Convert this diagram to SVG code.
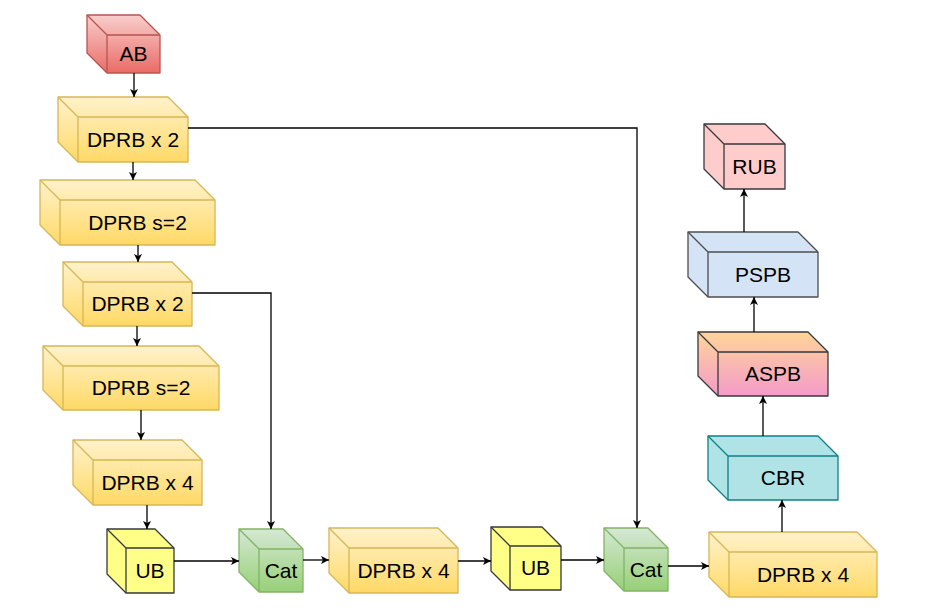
<svg xmlns="http://www.w3.org/2000/svg" width="941" height="614" viewBox="0 0 941 614">
<defs>
<linearGradient id="gY" x1="0" y1="0" x2="0" y2="1"><stop offset="0" stop-color="#fff2cc"/><stop offset="1" stop-color="#ffd966"/></linearGradient>
<linearGradient id="gR" x1="0" y1="0" x2="0" y2="1"><stop offset="0" stop-color="#f8cecc"/><stop offset="1" stop-color="#ea6b66"/></linearGradient>
<linearGradient id="gG" x1="0" y1="0" x2="0" y2="1"><stop offset="0" stop-color="#d5e8d4"/><stop offset="1" stop-color="#97d077"/></linearGradient>
<linearGradient id="gA" x1="0" y1="0" x2="0" y2="1"><stop offset="0" stop-color="#ffd599"/><stop offset="1" stop-color="#f49bc9"/></linearGradient>
<marker id="arr" markerUnits="userSpaceOnUse" markerWidth="10" markerHeight="10" refX="8" refY="4" orient="auto"><path d="M0,0 L8,4 L0,8 L2,4 Z" fill="#000"/></marker>
</defs>
<style>
.c path{stroke-width:1.3;stroke-linejoin:round}
.y path{fill:url(#gY);stroke:#d6b656}
.y path.i{fill:none}
.r path{fill:url(#gR);stroke:#b85450}
.g path{fill:url(#gG);stroke:#82b366}
.u path{fill:#ffff88;stroke:#36393d}
.t path{fill:#b0e3e6;stroke:#0e8088}
.a path{fill:url(#gA);stroke:#36393d}
.b path{fill:#d4e3f5;stroke:#4d4d4d}
.p path{fill:#ffcccc;stroke:#36393d}
path.i{fill:none !important}
.c path.s{fill:#ffffff !important;fill-opacity:0.18;stroke:none}
text{font-family:"Liberation Sans",Arial,sans-serif;font-size:21px;fill:#000;text-anchor:middle}
.e path{fill:none;stroke:#000;stroke-width:1.3;marker-end:url(#arr)}
</style>
<g id="AB" class="c r"><path d="M87,15 H140 L160,35 V73 H107 L87,53 Z"/><path class="i" d="M87,15 L107,35 H160 M107,35 V73"/><text x="133.5" y="61">AB</text></g>
<g id="DPRB1" class="c y"><path d="M58,97 H168 L188,117 V162 H78 L58,142 Z"/><path class="i" d="M58,97 L78,117 H188 M78,117 V162"/><text x="133" y="147">DPRB x 2</text></g>
<g id="DPRB2" class="c y"><path d="M40,180 H195 L215,200 V245 H60 L40,225 Z"/><path class="i" d="M40,180 L60,200 H215 M60,200 V245"/><text x="137.5" y="230">DPRB s=2</text></g>
<g id="DPRB3" class="c y"><path d="M63,262 H172 L192,282 V326 H83 L63,306 Z"/><path class="i" d="M63,262 L83,282 H192 M83,282 V326"/><text x="137.5" y="311">DPRB x 2</text></g>
<g id="DPRB4" class="c y"><path d="M43,346 H199 L219,366 V410 H63 L43,390 Z"/><path class="i" d="M43,346 L63,366 H219 M63,366 V410"/><text x="141" y="395">DPRB s=2</text></g>
<g id="DPRB5" class="c y"><path d="M73,440 H182 L202,460 V505 H93 L73,485 Z"/><path class="i" d="M73,440 L93,460 H202 M93,460 V505"/><text x="147.5" y="490">DPRB x 4</text></g>
<g id="UB1" class="c u"><path d="M107,529 H155 L174,548 V593 H126 L107,574 Z"/><path class="i" d="M107,529 L126,548 H174 M126,548 V593"/><text x="150" y="578">UB</text></g>
<g id="Cat1" class="c g"><path d="M239,529 H283 L303,549 V592 H259 L239,572 Z"/><path class="i" d="M239,529 L259,549 H303 M259,549 V592"/><text x="281" y="578">Cat</text></g>
<g id="DPRB6" class="c y"><path d="M329,528 H438 L458,548 V593 H349 L329,573 Z"/><path class="i" d="M329,528 L349,548 H458 M349,548 V593"/><text x="403.5" y="578">DPRB x 4</text></g>
<g id="UB2" class="c u"><path d="M491,527 H542 L561,546 V590 H510 L491,571 Z"/><path class="i" d="M491,527 L510,546 H561 M510,546 V590"/><text x="535.5" y="575">UB</text></g>
<g id="Cat2" class="c g"><path d="M604,528 H648 L668,548 V591 H624 L604,571 Z"/><path class="i" d="M604,528 L624,548 H668 M624,548 V591"/><text x="646" y="577">Cat</text></g>
<g id="DPRB7" class="c y"><path d="M709,532 H857 L877,552 V597 H729 L709,577 Z"/><path class="i" d="M709,532 L729,552 H877 M729,552 V597"/><text x="803" y="582">DPRB x 4</text></g>
<g id="CBR" class="c t"><path d="M708,436 H818 L838,456 V500 H728 L708,480 Z"/><path class="i" d="M708,436 L728,456 H838 M728,456 V500"/><text x="783" y="485">CBR</text></g>
<g id="ASPB" class="c a"><path d="M698,332 H808 L828,352 V396 H718 L698,376 Z"/><path class="i" d="M698,332 L718,352 H828 M718,352 V396"/><text x="773" y="381">ASPB</text></g>
<g id="PSPB" class="c b"><path d="M688,232 H798 L818,252 V297 H708 L688,277 Z"/><path class="i" d="M688,232 L708,252 H818 M708,252 V297"/><text x="763" y="282">PSPB</text></g>
<g id="RUB" class="c p"><path d="M704,124 H765 L785,144 V189 H724 L704,169 Z"/><path class="i" d="M704,124 L724,144 H785 M724,144 V189"/><text x="754.5" y="174">RUB</text></g>
<g id="connectors" class="e">
<path d="M134,73 V97"/>
<path d="M133,162 V180"/>
<path d="M138,245 V262"/>
<path d="M137,326 V346"/>
<path d="M141,410 V440"/>
<path d="M147,505 V529"/>
<path d="M174,561 H239"/>
<path d="M303,560 H329"/>
<path d="M458,561 H491"/>
<path d="M561,560 H604"/>
<path d="M668,566 H709"/>
<path d="M782,532 V500"/>
<path d="M763,436 V396"/>
<path d="M754,332 V297"/>
<path d="M744,232 V189"/>
<path d="M188,128 H637 V528"/>
<path d="M192,293 H271 V529"/>
</g>
</svg>
